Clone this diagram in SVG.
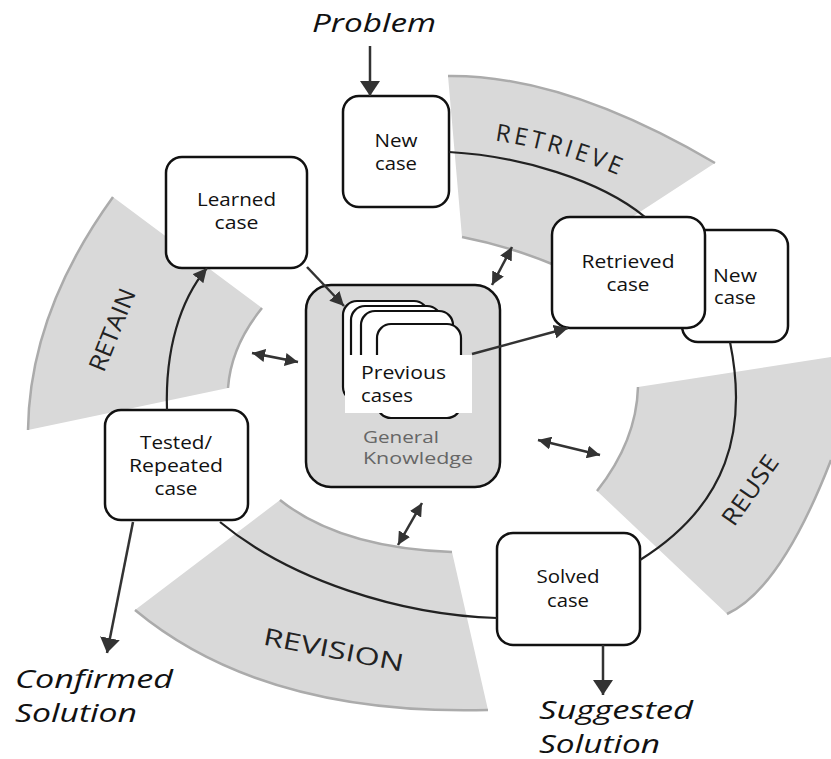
<svg xmlns="http://www.w3.org/2000/svg" width="831" height="759" viewBox="0 0 831 759">
<defs>
<style>
.band{fill:#d9d9d9;stroke:none}
.bedge{fill:none;stroke:#ababab;stroke-width:2.5}
.bl{font-family:"Open Sans","DejaVu Sans",sans-serif;font-size:24px;fill:#222}
.box{fill:#fff;stroke:#111;stroke-width:2.5}
.card{fill:#fff;stroke:#111;stroke-width:2.2}
.lab{font-family:"Open Sans","DejaVu Sans",sans-serif;font-size:18px;fill:#111;text-anchor:middle}
.labl{font-family:"Open Sans","DejaVu Sans",sans-serif;font-size:18px;fill:#111}
.gk{font-family:"Open Sans","DejaVu Sans",sans-serif;font-size:17px;fill:#666}
.io{font-family:"Open Sans","DejaVu Sans",sans-serif;font-size:25px;font-style:italic;fill:#111}
.con{fill:none;stroke:#222;stroke-width:2.2}
.arr{fill:none;stroke:#333;stroke-width:2.5}
</style>
<marker id="ahL" viewBox="0 0 15 20" refX="15" refY="10" markerWidth="15" markerHeight="20" markerUnits="userSpaceOnUse" orient="auto"><path d="M0,0 L15,10 L0,20 z" fill="#333"/></marker>
<marker id="ah" viewBox="0 0 14 14" refX="14" refY="7" markerWidth="14" markerHeight="14" markerUnits="userSpaceOnUse" orient="auto"><path d="M0,0 L14,7 L0,14 z" fill="#333"/></marker>
<marker id="ahS" viewBox="0 0 13 13" refX="13" refY="6.5" markerWidth="13" markerHeight="13" markerUnits="userSpaceOnUse" orient="auto-start-reverse"><path d="M0,0 L13,6.5 L0,13 z" fill="#333"/></marker>
<path id="rp" d="M470,138 Q560,145 650,190" fill="none"/>
</defs>
<rect width="831" height="759" fill="#fff"/>

<g id="bands">
<path class="band" d="M448,76 Q564.5,74.5 715,163 L557,266 Q510.5,246.5 462,237 Z"/>
<path class="bedge" d="M448,76 Q564.5,74.5 715,163"/>
<path class="bedge" d="M462,237 Q510.5,246.5 557,266"/>
<path class="band" d="M113,197 L262,308 Q231,346 228,388 L28,430 Q29.5,312.5 113,197 Z"/>
<path class="bedge" d="M113,197 Q29.5,312.5 28,430"/>
<path class="bedge" d="M262,308 Q231,346 228,388"/>
<path class="band" d="M638,387 L831,357 L831,460 Q781,589 727,614 L597,491 Q636.5,441 638,387 Z"/>
<path class="bedge" d="M831,460 Q781,589 727,614"/>
<path class="bedge" d="M638,387 Q636.5,441 597,491"/>
<path class="band" d="M135,610 L280,500 Q340,548 452,552 L488,710 Q262.5,716 135,610 Z"/>
<path class="bedge" d="M280,500 Q340,548 452,552"/>
<path class="bedge" d="M135,610 Q262.5,716 488,710"/>
<text class="bl" font-size="26" letter-spacing="3.5"><textPath href="#rp" startOffset="25">RETRIEVE</textPath></text>
<text class="bl" transform="translate(120,333) rotate(-68)" text-anchor="middle" textLength="87" lengthAdjust="spacingAndGlyphs">RETAIN</text>
<text class="bl" transform="translate(757,495) rotate(-55)" text-anchor="middle" textLength="80" lengthAdjust="spacingAndGlyphs">REUSE</text>
<text class="bl" transform="translate(332,658) rotate(11)" text-anchor="middle" textLength="142" lengthAdjust="spacingAndGlyphs">REVISION</text>
</g>

<g id="new-case">
<rect class="box" x="343" y="96" width="106" height="111" rx="16"/>
<text class="lab" x="396" y="147" textLength="43" lengthAdjust="spacingAndGlyphs">New</text>
<text class="lab" x="396" y="170" textLength="42" lengthAdjust="spacingAndGlyphs">case</text>
</g>
<g id="learned-case">
<rect class="box" x="166" y="157" width="141" height="111" rx="16"/>
<text class="lab" x="236.5" y="206" textLength="79" lengthAdjust="spacingAndGlyphs">Learned</text>
<text class="lab" x="236.5" y="229" textLength="44" lengthAdjust="spacingAndGlyphs">case</text>
</g>
<g id="tested-case">
<rect class="box" x="105" y="410" width="143" height="110" rx="16"/>
<text class="lab" x="176" y="449" textLength="72" lengthAdjust="spacingAndGlyphs">Tested/</text>
<text class="lab" x="176" y="472" textLength="94" lengthAdjust="spacingAndGlyphs">Repeated</text>
<text class="lab" x="176" y="495" textLength="43" lengthAdjust="spacingAndGlyphs">case</text>
</g>
<g id="new-case-2">
<rect class="box" x="682" y="230" width="106" height="112" rx="16"/>
<text class="lab" x="735" y="282" textLength="44" lengthAdjust="spacingAndGlyphs">New</text>
<text class="lab" x="735" y="304" textLength="42" lengthAdjust="spacingAndGlyphs">case</text>
</g>
<g id="retrieved-case">
<rect class="box" x="552" y="217" width="153" height="111" rx="18"/>
<text class="lab" x="628" y="268" textLength="93" lengthAdjust="spacingAndGlyphs">Retrieved</text>
<text class="lab" x="628" y="291" textLength="43" lengthAdjust="spacingAndGlyphs">case</text>
</g>
<g id="solved-case">
<rect class="box" x="497" y="533" width="143" height="112" rx="16"/>
<text class="lab" x="568" y="583" textLength="63" lengthAdjust="spacingAndGlyphs">Solved</text>
<text class="lab" x="568" y="607" textLength="42" lengthAdjust="spacingAndGlyphs">case</text>
</g>
<g id="general-knowledge">
<rect x="306" y="285" width="194" height="202" rx="25" fill="#d9d9d9" stroke="#111" stroke-width="2.5"/>
<rect class="card" x="343" y="301" width="85" height="100" rx="14"/>
<rect class="card" x="351" y="306" width="90" height="100" rx="14"/>
<rect class="card" x="361" y="311" width="92" height="100" rx="14"/>
<rect class="card" x="377" y="324" width="84" height="94" rx="14"/>
<rect x="345" y="355" width="127" height="58" fill="#fff"/>
<text class="labl" x="361" y="379" textLength="85" lengthAdjust="spacingAndGlyphs">Previous</text>
<text class="labl" x="361" y="402" textLength="52" lengthAdjust="spacingAndGlyphs">cases</text>
<text class="gk" x="363" y="443" textLength="76" lengthAdjust="spacingAndGlyphs">General</text>
<text class="gk" x="363" y="464" textLength="110" lengthAdjust="spacingAndGlyphs">Knowledge</text>
</g>

<g id="io-labels">
<text class="io" x="312" y="32" textLength="124" lengthAdjust="spacingAndGlyphs">Problem</text>
<text class="io" x="15" y="688" textLength="158" lengthAdjust="spacingAndGlyphs">Confirmed</text>
<text class="io" x="15" y="722" textLength="122" lengthAdjust="spacingAndGlyphs">Solution</text>
<text class="io" x="539" y="719" textLength="154" lengthAdjust="spacingAndGlyphs">Suggested</text>
<text class="io" x="539" y="753" textLength="121" lengthAdjust="spacingAndGlyphs">Solution</text>
</g>

<g id="connectors">
<path class="con" d="M449,152 C520,156 600,180 645,217"/>
<path class="con" d="M730,342 C748,430 728,505 640,560"/>
<path class="con" d="M497,618 C400,615 290,580 220,522"/>
<path class="con" d="M167,410 C165,350 180,300 207,268" marker-end="url(#ah)"/>
<path class="arr" d="M370,46 L370,96" marker-end="url(#ahL)"/>
<path class="arr" d="M603,645 L603,695" marker-end="url(#ahL)"/>
<path class="arr" d="M133,522 L107,653" marker-end="url(#ahL)"/>
<path class="arr" d="M307,267 L344,306" marker-end="url(#ah)"/>
<path class="arr" d="M472,354 L568,328" marker-end="url(#ah)"/>
<path class="arr" d="M512,247 L492,285" marker-start="url(#ahS)" marker-end="url(#ahS)"/>
<path class="arr" d="M252,353 L298,362" marker-start="url(#ahS)" marker-end="url(#ahS)"/>
<path class="arr" d="M538,440 L600,455" marker-start="url(#ahS)" marker-end="url(#ahS)"/>
<path class="arr" d="M422,503 L398,545" marker-start="url(#ahS)" marker-end="url(#ahS)"/>
</g>
</svg>
